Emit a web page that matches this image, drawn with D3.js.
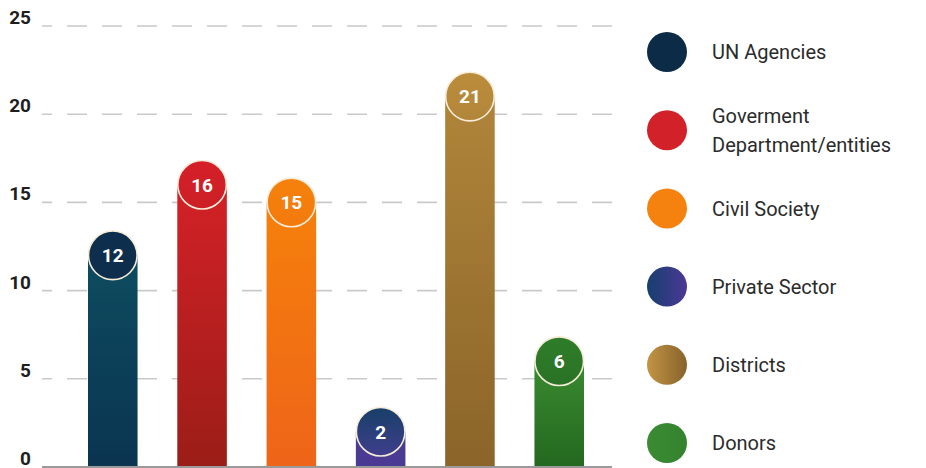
<!DOCTYPE html>
<html>
<head>
<meta charset="utf-8">
<script src="https://cdn.jsdelivr.net/npm/d3@7"></script>
<style>
  html, body { margin: 0; padding: 0; background: #fff; }
  svg { display: block; font-family: Roboto, "Noto Sans", sans-serif; }
</style>
</head>
<body>
<svg id="chart" width="926" height="468"></svg>
<script>
// ---- data ----
const categories = ["UN Agencies", "Goverment Department/entities", "Civil Society", "Private Sector", "Districts", "Donors"];
const legendLines = [["UN Agencies"], ["Goverment", "Department/entities"], ["Civil Society"], ["Private Sector"], ["Districts"], ["Donors"]];
const values = [12, 16, 15, 2, 21, 6];
const yTicks = [0, 5, 10, 15, 20, 25];
// bar gradient (top, bottom), circle gradient (top, bottom), legend gradient (left, right)
const barTop    = ["#0e4c60", "#d32127", "#f5800b", "#4a3d8e", "#b0853a", "#3a8a30"];
const barBottom = ["#0a3450", "#9b1d17", "#ee6419", "#4b3a94", "#8a6429", "#23681f"];
const dotTop    = ["#0d2e4c", "#d52028", "#f5820c", "#183f68", "#bb8c3b", "#2e7d29"];
const dotBottom = ["#0d2e4c", "#cc1f26", "#f37a0d", "#3f3f8c", "#b2863a", "#2a7226"];
const legLeft   = ["#0c2b46", "#d3212a", "#f5820f", "#173f6e", "#c39445", "#3b8b33"];
const legRight  = ["#0c2b46", "#d3212a", "#f5820f", "#4a3896", "#87622a", "#34822e"];

// ---- layout ----
const svg = d3.select("#chart");
const defs = svg.append("defs");

const y = d3.scaleLinear().domain([0, 25]).range([467, 26]);
const x = d3.scaleBand().domain(categories).range([88, 584]).paddingInner(0.445).paddingOuter(0);
const axisX0 = 42, axisX1 = 612;

// gradients
categories.forEach((c, i) => {
  const gb = defs.append("linearGradient").attr("id", "bar" + i).attr("x1", 0).attr("y1", 0).attr("x2", 0).attr("y2", 1);
  gb.append("stop").attr("offset", "0%").attr("stop-color", barTop[i]);
  gb.append("stop").attr("offset", "100%").attr("stop-color", barBottom[i]);
  const gd = defs.append("linearGradient").attr("id", "dot" + i).attr("x1", 0).attr("y1", 0).attr("x2", 0).attr("y2", 1);
  gd.append("stop").attr("offset", "0%").attr("stop-color", dotTop[i]);
  gd.append("stop").attr("offset", "100%").attr("stop-color", dotBottom[i]);
  const gl = defs.append("linearGradient").attr("id", "leg" + i).attr("x1", 0).attr("y1", 0).attr("x2", 1).attr("y2", 0);
  gl.append("stop").attr("offset", "0%").attr("stop-color", legLeft[i]);
  gl.append("stop").attr("offset", "100%").attr("stop-color", legRight[i]);
});

// gridlines (dashed) for non-zero ticks
svg.append("g").selectAll("line")
  .data(yTicks.filter(t => t > 0))
  .join("line")
  .attr("x1", axisX0).attr("x2", axisX1)
  .attr("y1", d => y(d)).attr("y2", d => y(d))
  .attr("stroke", "#c9c9c9")
  .attr("stroke-width", 1.6)
  .attr("stroke-dasharray", "20 15")
  .attr("stroke-dashoffset", 10);

// y tick labels
svg.append("g").selectAll("text")
  .data(yTicks)
  .join("text")
  .attr("x", 31)
  .attr("y", d => y(d) - 2)
  .attr("text-anchor", "end")
  .attr("font-size", 19)
  .attr("font-weight", 700)
  .attr("fill", "#1e1e1e")
  .text(d => d);

// bars
const r = x.bandwidth() / 2;
const g = svg.append("g");
g.selectAll("rect")
  .data(values)
  .join("rect")
  .attr("x", (d, i) => x(categories[i]))
  .attr("width", x.bandwidth())
  .attr("y", d => y(d))
  .attr("height", d => y(0) - y(d))
  .attr("fill", (d, i) => `url(#bar${i})`);

// baseline axis
svg.append("line")
  .attr("x1", axisX0).attr("x2", axisX1)
  .attr("y1", y(0)).attr("y2", y(0))
  .attr("stroke", "#9a9a9a")
  .attr("stroke-width", 2);

// value circles
g.selectAll("circle")
  .data(values)
  .join("circle")
  .attr("cx", (d, i) => x(categories[i]) + r)
  .attr("cy", d => y(d))
  .attr("r", r - 0.5)
  .attr("fill", (d, i) => `url(#dot${i})`)
  .attr("stroke", "#f6ecd8")
  .attr("stroke-width", 1.6);

g.selectAll("text.val")
  .data(values)
  .join("text")
  .attr("class", "val")
  .attr("x", (d, i) => x(categories[i]) + r)
  .attr("y", d => y(d))
  .attr("dy", "0.36em")
  .attr("text-anchor", "middle")
  .attr("font-size", 19)
  .attr("font-weight", 700)
  .attr("fill", "#ffffff")
  .text(d => d);

// legend
const legY = d3.scalePoint().domain(categories).range([52, 443]);
const leg = svg.append("g").selectAll("g")
  .data(categories)
  .join("g")
  .attr("transform", d => `translate(0,${legY(d)})`);
leg.append("circle")
  .attr("cx", 667).attr("cy", 0).attr("r", 20)
  .attr("fill", (d, i) => `url(#leg${i})`);
leg.append("text")
  .attr("x", 712)
  .attr("font-size", 20)
  .attr("fill", "#2b2b2b")
  .each(function(d, i) {
    const lines = legendLines[i];
    const t = d3.select(this);
    const lh = 29;
    const start = -(lines.length - 1) * lh / 2;
    lines.forEach((ln, k) => {
      t.append("tspan").attr("x", 712).attr("y", start + k * lh).attr("dy", "0.36em").text(ln);
    });
  });
</script>
</body>
</html>
